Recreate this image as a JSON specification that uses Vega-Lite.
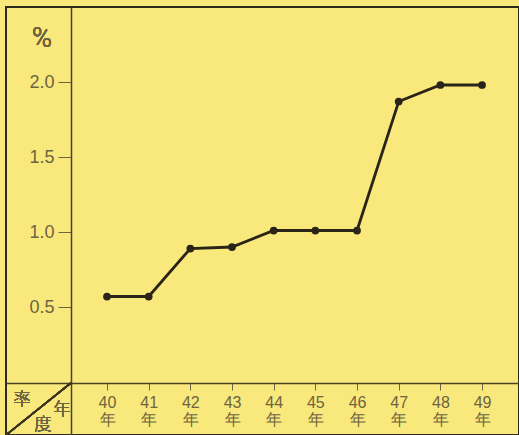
{
  "$schema": "https://vega.github.io/schema/vega-lite/v6.json",
  "autosize": {"type": "none"},
  "padding": {"left": 6, "top": 7, "right": 0, "bottom": 0},
  "width": 513,
  "height": 428,
  "background": "#f9e97c",
  "config": {
    "view": {"stroke": "#2e2a1c", "strokeWidth": 2, "fill": "#f9e97c"},
    "axis": {"grid": false, "title": null, "labelFont": "Liberation Sans", "labelColor": "#6e6440", "tickColor": "#6e6440", "domainColor": "#4a4228"}
  },
  "data": {"values": [
    {"year": 40, "rate": 0.57},
    {"year": 41, "rate": 0.57},
    {"year": 42, "rate": 0.89},
    {"year": 43, "rate": 0.90},
    {"year": 44, "rate": 1.01},
    {"year": 45, "rate": 1.01},
    {"year": 46, "rate": 1.01},
    {"year": 47, "rate": 1.87},
    {"year": 48, "rate": 1.98},
    {"year": 49, "rate": 1.98}
  ]},
  "layer": [
    {
      "mark": {"type": "line", "color": "#2a2418", "strokeWidth": 2.8},
      "encoding": {
        "x": {"field": "year", "type": "quantitative",
          "scale": {"domain": [37.576, 49.887], "nice": false, "zero": false},
          "axis": {"orient": "bottom", "offset": -52, "values": [40,41,42,43,44,45,46,47,48,49],
            "labelExpr": "[datum.label, '年']", "tickSize": 7, "labelPadding": 4,
            "labelFontSize": 16, "labelLineHeight": 17, "domainWidth": 1.5}},
        "y": {"field": "rate", "type": "quantitative",
          "scale": {"domain": [-0.3533, 2.5], "nice": false, "zero": false},
          "axis": {"orient": "left", "offset": -65, "values": [0.5, 1.0, 1.5, 2.0], "format": ".1f",
            "tickSize": 13, "labelPadding": 4, "labelFontSize": 18, "domainWidth": 1.5}}
      }
    },
    {
      "mark": {"type": "point", "filled": true, "color": "#2a2418", "size": 60, "opacity": 1},
      "encoding": {
        "x": {"field": "year", "type": "quantitative"},
        "y": {"field": "rate", "type": "quantitative"}
      }
    },
    {
      "mark": {"type": "rule", "color": "#3a3420", "strokeWidth": 1.5},
      "encoding": {
        "x": {"datum": 37.576}, "y": {"datum": -0.3533},
        "x2": {"datum": 39.136}, "y2": {"datum": -0.006}
      }
    },
    {
      "mark": {"type": "text", "text": "%", "fontSize": 27, "fontWeight": 300, "font": "Roboto", "color": "#6e6440"},
      "encoding": {"x": {"datum": 38.44}, "y": {"datum": 2.287}}
    },
    {
      "mark": {"type": "text", "text": "率", "fontSize": 17, "fontWeight": 300, "font": "Noto Sans CJK JP", "color": "#6e6440"},
      "encoding": {"x": {"datum": 37.96}, "y": {"datum": -0.12}}
    },
    {
      "mark": {"type": "text", "text": "年", "fontSize": 17, "fontWeight": 300, "font": "Noto Sans CJK JP", "color": "#6e6440"},
      "encoding": {"x": {"datum": 38.92}, "y": {"datum": -0.187}}
    },
    {
      "mark": {"type": "text", "text": "度", "fontSize": 17, "fontWeight": 300, "font": "Noto Sans CJK JP", "color": "#6e6440"},
      "encoding": {"x": {"datum": 38.464}, "y": {"datum": -0.287}}
    }
  ]
}
